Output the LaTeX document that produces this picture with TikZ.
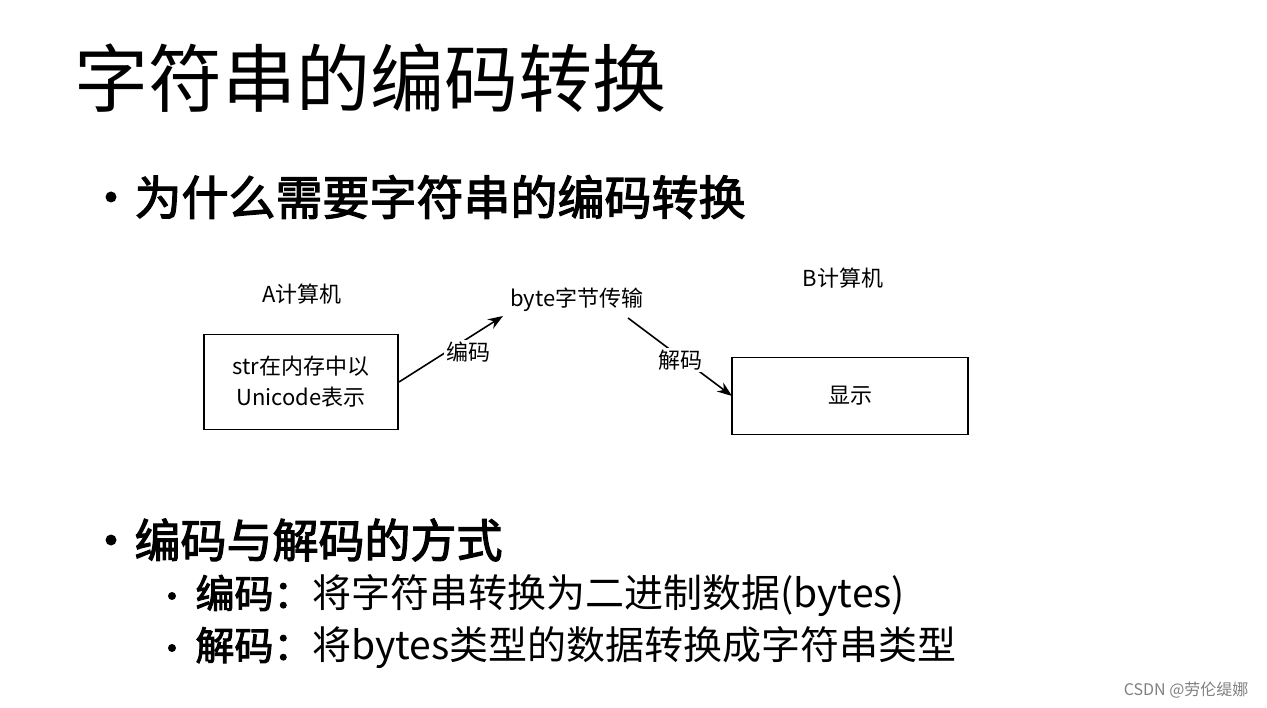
\documentclass[tikz,border=0pt]{standalone}
\usepackage{fontspec}
\setmainfont{Noto Sans CJK SC}
\newfontfamily\cjkb{Noto Sans CJK SC}[FakeBold=2.5]
\usetikzlibrary{arrows.meta}
\begin{document}
\begin{tikzpicture}[x=1pt,y=-1pt,
  box/.style={draw,line width=1.2pt,inner sep=0pt},
  lbl/.style={font=\fontsize{22}{26}\selectfont},
  conn/.style={line width=1.6pt,-{Stealth[length=15pt,width=11pt]}},
  dot/.style={circle,fill,inner sep=0pt}]
\useasboundingbox (0,0) rectangle (1267,708);
\node[anchor=west,font=\fontsize{74}{80}\selectfont] (title) at (71,78) {字符串的编码转换};
\node[dot,minimum size=11pt] (d1) at (111,197) {};
\node[anchor=west,font=\cjkb\fontsize{47}{52}\selectfont] (b1) at (131,197) {为什么需要字符串的编码转换};
\node[box,minimum width=194pt,minimum height=95pt,align=center,font=\fontsize{22}{31}\selectfont] (A) at (301,382) {str在内存中以\\Unicode表示};
\node[box,minimum width=236pt,minimum height=77pt,lbl] (B) at (850,396) {显示};
\node[lbl] (la) at (302,294) {A计算机};
\node[lbl] (lb) at (843,278) {B计算机};
\node[lbl] (mid) at (577,300) {byte字节传输};
\coordinate (a1) at (399,382);
\coordinate (a2) at (503,316);
\coordinate (c1) at (628,318);
\coordinate (c2) at (732,396);
\draw[conn] (a1) -- (a2);
\draw[conn] (c1) -- (c2);
\node[lbl,inner sep=2pt,fill=white] (enc) at (468,352) {编码};
\node[lbl,inner sep=2pt,fill=white] (dec) at (680,360) {解码};
\node[dot,minimum size=11pt] (d2) at (111,540) {};
\node[anchor=west,font=\cjkb\fontsize{46}{52}\selectfont] (b2) at (131,540) {编码与解码的方式};
\node[dot,minimum size=8pt] (d3) at (172,596) {};
\node[anchor=west,font=\fontsize{39}{44}\selectfont] (s1) at (192,596) {{\cjkb 编码：}将字符串转换为二进制数据(bytes)};
\node[dot,minimum size=8pt] (d4) at (172,648) {};
\node[anchor=west,font=\fontsize{39}{44}\selectfont] (s2) at (192,648) {{\cjkb 解码：}将bytes类型的数据转换成字符串类型};
\node[anchor=east,text=gray,font=\fontsize{16}{18}\selectfont] (wm) at (1252,690) {CSDN @劳伦缇娜};
\end{tikzpicture}
\end{document}
